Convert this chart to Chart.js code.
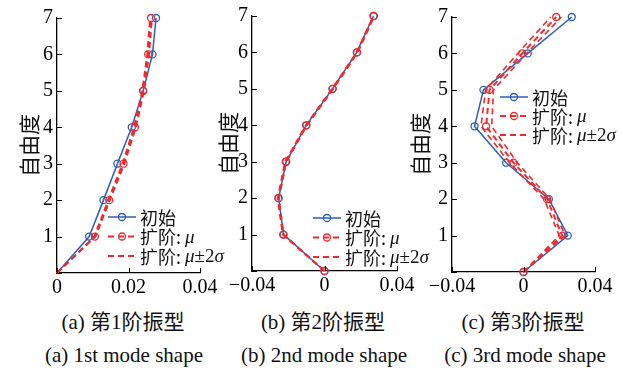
<!DOCTYPE html>
<html>
<head>
<meta charset="utf-8">
<script src="https://cdn.jsdelivr.net/npm/chart.js@4"></script>
<style>
  html, body { margin: 0; padding: 0; background: #fff; }
  #wrap { position: relative; width: 622px; height: 368px; overflow: hidden; }
  #wrap canvas { position: absolute; left: 0; top: 0; }
  .cap {
    position: absolute; width: 260px; margin-left: -130px; text-align: center;
    font-family: "Liberation Serif", "Noto Sans CJK SC", serif;
    font-size: 21px; line-height: 24px; color: #111; white-space: nowrap;
  }
</style>
</head>
<body>
<div id="wrap">
  <canvas id="c1" width="622" height="300"></canvas>
  <canvas id="c2" width="622" height="300"></canvas>
  <canvas id="c3" width="622" height="300"></canvas>
  <div class="cap" style="left:123px;top:310px">(a) 第1阶振型</div>
  <div class="cap" style="left:124px;top:343px">(a) 1st mode shape</div>
  <div class="cap" style="left:323px;top:310px">(b) 第2阶振型</div>
  <div class="cap" style="left:324px;top:343px">(b) 2nd mode shape</div>
  <div class="cap" style="left:523px;top:310px">(c) 第3阶振型</div>
  <div class="cap" style="left:525px;top:343px">(c) 3rd mode shape</div>
</div>
<script>
// ---- data ----
const dof = [0, 1, 2, 3, 4, 5, 6, 7];

// mode 1
const init1  = [0, 0.0090, 0.0130, 0.0169, 0.0209, 0.0241, 0.0267, 0.0277];
const mu1    = [0, 0.0106, 0.0146, 0.0186, 0.0218, 0.0241, 0.0255, 0.0263];
const upper1 = [0, 0.0108, 0.0148, 0.0189, 0.0221, 0.0244, 0.0258, 0.0266];
const lower1 = [0, 0.0104, 0.0143, 0.0183, 0.0215, 0.0238, 0.0252, 0.0260];

// mode 2
const init2  = [0, -0.0226, -0.0253, -0.0211, -0.0101, 0.0044, 0.0178, 0.0270];
const mu2    = [0, -0.0228, -0.0255, -0.0214, -0.0100, 0.0045, 0.0180, 0.0272];
const upper2 = [0, -0.0225, -0.0251, -0.0210, -0.0096, 0.0049, 0.0184, 0.0275];
const lower2 = [0, -0.0231, -0.0259, -0.0218, -0.0104, 0.0041, 0.0176, 0.0269];

// mode 3
const init3  = [0, 0.0248, 0.0142, -0.0097, -0.0274, -0.0224, 0.0024, 0.0270];
const mu3    = [0, 0.0216, 0.0132, -0.0056, -0.0209, -0.0190, -0.0007, 0.0183];
const upper3 = [0, 0.0232, 0.0148, -0.0035, -0.0178, -0.0168, 0.0018, 0.0212];
const lower3 = [0, 0.0200, 0.0115, -0.0078, -0.0238, -0.0212, -0.0032, 0.0152];

const xTicks1 = [0, 0.04];      // min / max
const xTicks23 = [-0.04, 0.04];

const legendLabels = ['初始', '扩阶: μ', '扩阶: μ±2σ'];

// ---- styles ----
const BLUE = '#2c5fb3';
const RED = '#ee2a2f';
const SERIF = '"Liberation Serif", "Times New Roman", serif';
const CJK = '"Noto Sans CJK SC", sans-serif';

const pts = (xs) => xs.map((v, i) => ({ x: v, y: dof[i] }));

// inward ticks, MATLAB style
const innerTicks = {
  id: 'innerTicks',
  afterDraw(chart) {
    const { ctx, chartArea: a, scales: { x, y } } = chart;
    ctx.save();
    ctx.strokeStyle = '#000';
    ctx.lineWidth = 1;
    ctx.beginPath();
    x.ticks.forEach(t => {
      const px = Math.round(x.getPixelForValue(t.value)) + 0.5;
      ctx.moveTo(px, a.bottom);
      ctx.lineTo(px, a.bottom - 5);
    });
    y.ticks.forEach(t => {
      const py = Math.round(y.getPixelForValue(t.value)) + 0.5;
      ctx.moveTo(a.left, py);
      ctx.lineTo(a.left + 5, py);
    });
    ctx.stroke();
    ctx.restore();
  }
};

// legend drawn inside the plot
const modeLegend = {
  id: 'modeLegend',
  afterDraw(chart, args, opts) {
    const ctx = chart.ctx;
    const rows = [
      { color: BLUE, dash: [], width: 1.5, marker: true,
        parts: [[legendLabels[0], '18px ' + CJK]] },
      { color: RED, dash: [6, 4], width: 2, marker: true,
        parts: [['扩阶: ', '18px ' + CJK], ['μ', 'italic 19px ' + SERIF]] },
      { color: RED, dash: [6, 4], width: 2, marker: false,
        parts: [['扩阶: ', '18px ' + CJK], ['μ', 'italic 19px ' + SERIF],
                ['±2', '19px ' + SERIF], ['σ', 'italic 19px ' + SERIF]] }
    ];
    ctx.save();
    rows.forEach((r, i) => {
      const y = opts.y + i * opts.gap;
      const x0 = opts.x, x1 = opts.x + 28;
      ctx.strokeStyle = r.color;
      ctx.lineWidth = r.width;
      ctx.setLineDash(r.dash);
      ctx.beginPath();
      ctx.moveTo(x0, y);
      ctx.lineTo(x1, y);
      ctx.stroke();
      ctx.setLineDash([]);
      if (r.marker) {
        ctx.lineWidth = 1.3;
        ctx.beginPath();
        ctx.arc((x0 + x1) / 2, y, 3.5, 0, Math.PI * 2);
        ctx.stroke();
      }
      let tx = x1 + 4;
      ctx.fillStyle = '#111';
      ctx.textBaseline = 'middle';
      r.parts.forEach(([txt, font]) => {
        ctx.font = font;
        ctx.fillText(txt, tx, y + 1);
        tx += ctx.measureText(txt).width;
      });
    });
    ctx.restore();
  }
};

function makeChart(id, d, xr, step, pad, yW, legendPos, hideOrigin) {
  const mk = (first) => dof.map((_, i) => (i === 0 && first) ? 0 : 3.5);
  return new Chart(document.getElementById(id), {
    type: 'line',
    data: {
      datasets: [
        { data: pts(d.upper), borderColor: RED, borderWidth: 1.6, borderDash: [6, 4],
          pointRadius: 0, fill: false, clip: false },
        { data: pts(d.lower), borderColor: RED, borderWidth: 1.6, borderDash: [6, 4],
          pointRadius: 0, fill: false, clip: false },
        { data: pts(d.mu), borderColor: RED, borderWidth: 2, borderDash: [6, 4],
          pointRadius: mk(hideOrigin), pointBorderWidth: 1.3, pointBorderColor: RED,
          pointBackgroundColor: 'rgba(0,0,0,0)', fill: false, clip: false },
        { data: pts(d.init), borderColor: BLUE, borderWidth: 1.5,
          pointRadius: mk(hideOrigin), pointBorderWidth: 1.3, pointBorderColor: BLUE,
          pointBackgroundColor: 'rgba(0,0,0,0)', fill: false, clip: false }
      ]
    },
    options: {
      responsive: false,
      animation: false,
      layout: { padding: pad },
      plugins: {
        legend: { display: false },
        tooltip: { enabled: false },
        modeLegend: legendPos
      },
      scales: {
        x: {
          type: 'linear', min: xr[0], max: xr[1],
          grid: { display: false, drawTicks: false },
          border: { display: true, color: '#000', width: 1.3 },
          ticks: {
            stepSize: step, maxRotation: 0, padding: 3, color: '#000',
            font: { family: SERIF, size: 20 },
            callback: v => v === 0 ? '0' : String(+v.toFixed(2)).replace('-', '\u2212')
          },
          afterFit: s => { s.height = 27; }
        },
        y: {
          type: 'linear', min: 0, max: 7,
          grid: { display: false, drawTicks: false },
          border: { display: true, color: '#000', width: 1.3 },
          ticks: {
            stepSize: 1, padding: 4, color: '#000',
            font: { family: SERIF, size: 20 },
            callback: v => v === 0 ? '' : v
          },
          title: {
            display: true, text: '自由度', color: '#111', padding: 0,
            font: { family: CJK, size: 21 }
          },
          afterFit: s => { s.width = yW; }
        }
      }
    },
    plugins: [innerTicks, modeLegend]
  });
}

makeChart('c1', { init: init1, mu: mu1, upper: upper1, lower: lower1 }, xTicks1, 0.02,
  { left: 16, right: 422, top: 18, bottom: 0 }, 41, { x: 108, y: 217, gap: 19.5 }, true);
makeChart('c2', { init: init2, mu: mu2, upper: upper2, lower: lower2 }, xTicks23, 0.04,
  { left: 215, right: 225, top: 16, bottom: 2 }, 37, { x: 313, y: 218, gap: 19.5 }, false);
makeChart('c3', { init: init3, mu: mu3, upper: upper3, lower: lower3 }, xTicks23, 0.04,
  { left: 407, right: 27, top: 17, bottom: 1 }, 45, { x: 500, y: 97, gap: 19 }, false);
</script>
</body>
</html>
